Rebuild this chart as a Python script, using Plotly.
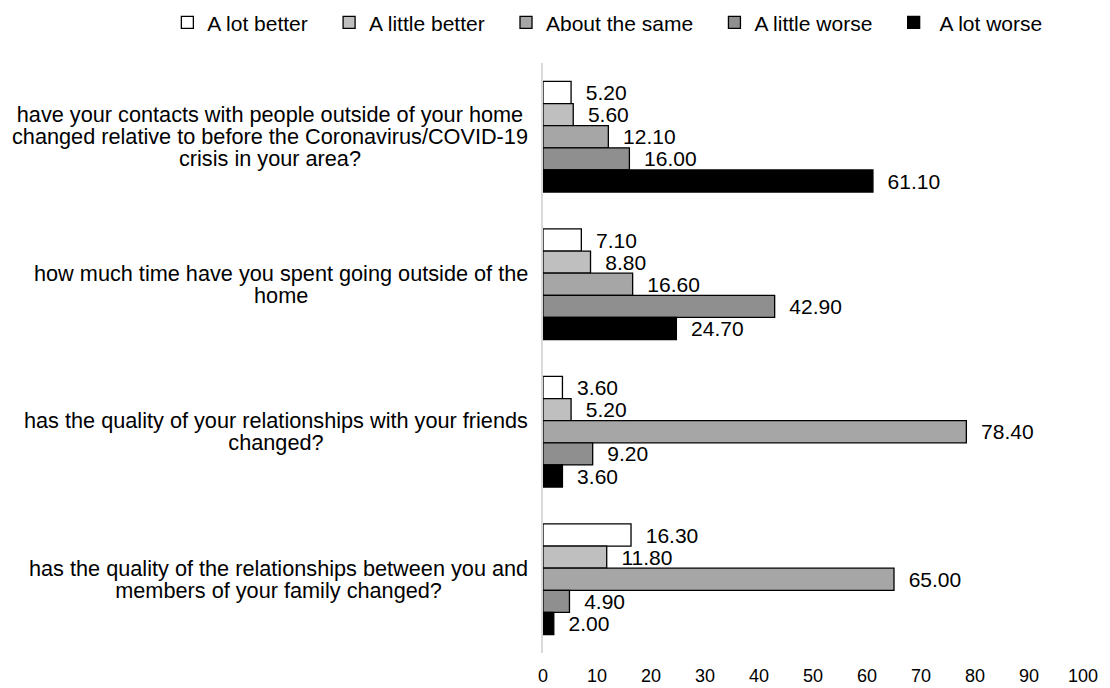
import plotly.graph_objects as go

# Survey questions (top to bottom), one list of lines per question
question_lines = [
    ["have your contacts with people outside of your home",
     "changed relative to before the Coronavirus/COVID-19",
     "crisis in your area?"],
    ["how much time have you spent going outside of the",
     "home"],
    ["has the quality of your relationships with your friends",
     "changed?"],
    ["has the quality of the relationships between you and",
     "members of your family changed?"],
]
question_keys = ["contacts", "time_outside", "friends", "family"]

# Response categories and their percentages, per question
responses = ["A lot better", "A little better", "About the same", "A little worse", "A lot worse"]
a_lot_better = [5.20, 7.10, 3.60, 16.30]
a_little_better = [5.60, 8.80, 5.20, 11.80]
about_the_same = [12.10, 16.60, 78.40, 65.00]
a_little_worse = [16.00, 42.90, 9.20, 4.90]
a_lot_worse = [61.10, 24.70, 3.60, 2.00]
series = [a_lot_better, a_little_better, about_the_same, a_little_worse, a_lot_worse]

fills = ["#ffffff", "#bfbfbf", "#a6a6a6", "#8f8f8f", "#000000"]

x_ticks = [0, 10, 20, 30, 40, 50, 60, 70, 80, 90, 100]

FONT = "Arial, Liberation Sans, sans-serif"

# Legend entries: extra trailing space widens the gap between entries
legend_names = [r + "\u2002\u00a0" for r in responses]
legend_names[-1] = "\u00a0" + responses[-1]

fig = go.Figure()
for name, label, vals, col in zip(responses, legend_names, series, fills):
    fig.add_trace(go.Bar(
        y=question_keys,
        x=vals,
        name=label,
        orientation="h",
        marker=dict(color=col, line=dict(color="#000000", width=1.3)),
        text=vals,
        texttemplate="\u00a0\u00a0%{x:.2f}",
        textposition="outside",
        constraintext="none",
        cliponaxis=False,
        textfont=dict(family=FONT, size=21, color="#000000"),
    ))

# Question labels: centred lines, block right-aligned against the axis.
# A small base size keeps the line spacing tight while the spans set the glyph size.
for key, lines in zip(question_keys, question_lines):
    label = "<br>".join('<span style="font-size:21.7px">%s</span>' % ln for ln in lines)
    fig.add_annotation(
        x=0, xref="paper", y=key, yref="y",
        text=label, showarrow=False,
        xanchor="right", xshift=-13, align="center",
        font=dict(family=FONT, size=17, color="#000000"),
    )

fig.update_layout(
    width=1110, height=688,
    # right margin left at 0 (the x range carries the empty space instead)
    margin=dict(l=543, r=0, t=63, b=35),
    paper_bgcolor="#ffffff",
    plot_bgcolor="#ffffff",
    barmode="group",
    bargap=0.25,
    bargroupgap=0,
    font=dict(family=FONT, size=21, color="#000000"),
    showlegend=True,
    legend=dict(
        orientation="h",
        xref="paper", x=-0.6625, xanchor="left",
        yref="paper", y=1.103, yanchor="top",
        font=dict(family=FONT, size=21, color="#000000"),
        traceorder="normal",
        itemwidth=30,
    ),
    xaxis=dict(
        range=[0, 105],
        tickvals=x_ticks,
        ticktext=[str(t) for t in x_ticks],
        showgrid=False, zeroline=False, showline=False,
        ticks="",
        ticklabelstandoff=10,
        automargin=False,
        tickfont=dict(family=FONT, size=18, color="#000000"),
    ),
    yaxis=dict(
        type="category",
        categoryorder="array", categoryarray=question_keys,
        autorange="reversed",
        showticklabels=False,
        showgrid=False, zeroline=False,
        showline=True, linecolor="#d9d9d9", linewidth=2,
        ticks="",
        automargin=False,
    ),
)

fig.write_html("out.html")
